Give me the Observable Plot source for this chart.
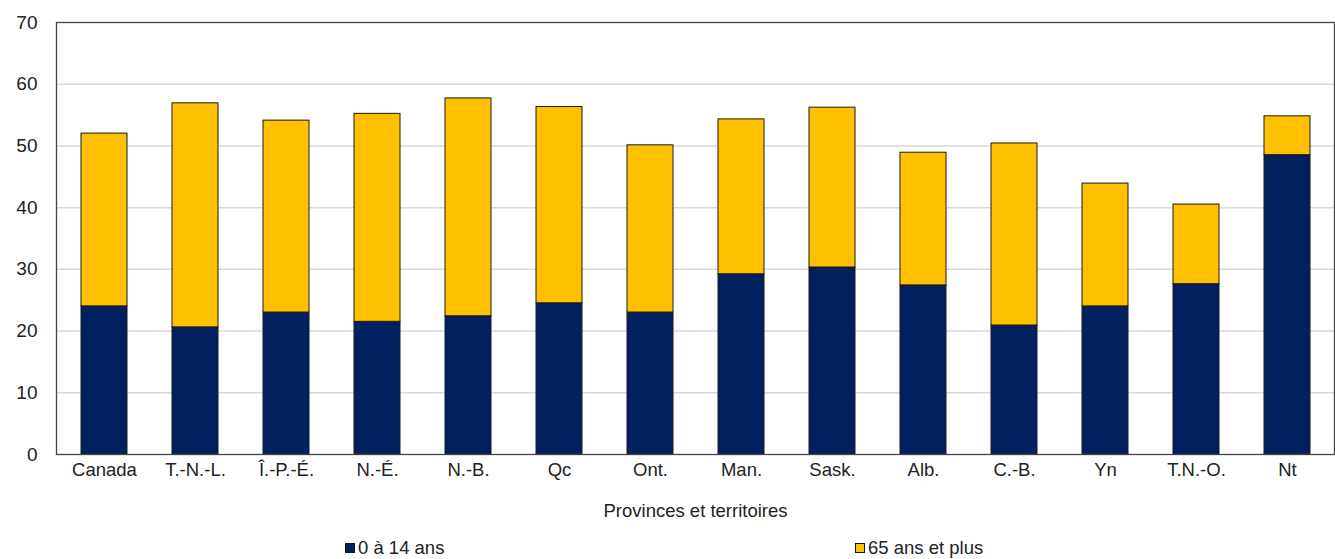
<!DOCTYPE html>
<html>
<head>
<meta charset="utf-8">
<script src="https://cdn.jsdelivr.net/npm/d3@7"></script>
<script src="https://cdn.jsdelivr.net/npm/@observablehq/plot@0.6"></script>
<style>
  html, body { margin: 0; padding: 0; background: #fff; }
  body { width: 1335px; height: 559px; overflow: hidden; font-family: "Liberation Sans Narrow", "Liberation Sans", Arial, sans-serif; color: #222; }
  #chart svg { display: block; }
  #legend { position: relative; height: 34px; font-size: 18.5px; color: #222; }
  .item { position: absolute; top: 12px; display: flex; align-items: center; }
  .sw { width: 8px; height: 8px; border: 1px solid #111; margin-right: 3px; }
</style>
</head>
<body>
<div id="chart"></div>
<div id="legend"></div>
<script>
const categories = ["Canada", "T.-N.-L.", "Î.-P.-É.", "N.-É.", "N.-B.", "Qc", "Ont.", "Man.", "Sask.", "Alb.", "C.-B.", "Yn", "T.N.-O.", "Nt"];
const youth = [24.0, 20.6, 23.0, 21.5, 22.4, 24.5, 23.0, 29.2, 30.3, 27.4, 20.9, 24.0, 27.6, 48.5];
const seniors = [28.0, 36.3, 31.1, 33.7, 35.3, 31.8, 27.1, 25.1, 25.9, 21.5, 29.5, 19.9, 12.9, 6.3];
const seriesNames = ["0 à 14 ans", "65 ans et plus"];
const seriesColors = ["#002060", "#FFC000"];
const yTicks = [0, 10, 20, 30, 40, 50, 60, 70];
const gridTicks = [10, 20, 30, 40, 50, 60];
const xLabel = "Provinces et territoires";

const data = [];
categories.forEach((c, i) => {
  data.push({cat: c, series: seriesNames[0], value: youth[i]});
  data.push({cat: c, series: seriesNames[1], value: seniors[i]});
});

const chart = Plot.plot({
  width: 1335,
  height: 525,
  marginLeft: 56,
  marginRight: 1,
  marginTop: 22,
  marginBottom: 71,
  style: {fontFamily: '"Liberation Sans Narrow", "Liberation Sans", Arial, sans-serif', fontSize: "18.5px", color: "#222", background: "#fff"},
  x: {domain: categories, paddingInner: 0.5, paddingOuter: 0.25, label: null},
  y: {domain: [0, 70], ticks: yTicks, label: null},
  color: {domain: seriesNames, range: seriesColors},
  marks: [
    Plot.ruleY(gridTicks, {stroke: "#d9d9d9", strokeWidth: 1.5}),
    Plot.barY(data, {x: "cat", y: "value", fill: "series", stroke: "#1a1a1a", strokeWidth: 1, order: seriesNames}),
    Plot.frame({stroke: "#444", strokeWidth: 1.3}),
    Plot.axisY({ticks: yTicks, tickSize: 0, tickPadding: 19, fontSize: 19, label: null}),
    Plot.axisX({tickSize: 0, tickPadding: 8, fontSize: 18.5, label: xLabel, labelAnchor: "center", labelArrow: "none", labelOffset: 62})
  ]
});
document.getElementById("chart").appendChild(chart);

const legend = document.getElementById("legend");
const positions = [345, 855];
seriesNames.forEach((n, i) => {
  const it = document.createElement("div");
  it.className = "item";
  it.style.left = positions[i] + "px";
  const sw = document.createElement("div");
  sw.className = "sw";
  sw.style.background = seriesColors[i];
  const t = document.createElement("span");
  t.textContent = n;
  it.appendChild(sw);
  it.appendChild(t);
  legend.appendChild(it);
});
</script>
</body>
</html>
